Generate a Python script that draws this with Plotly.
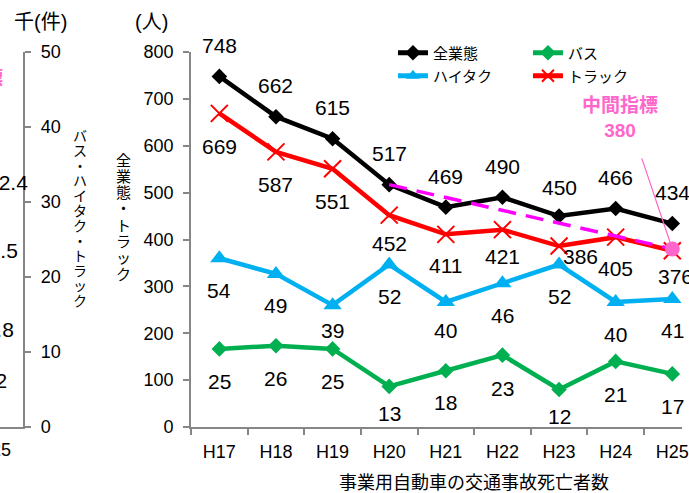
import plotly.graph_objects as go

# ---- data -------------------------------------------------------------
years = ["H17", "H18", "H19", "H20", "H21", "H22", "H23", "H24", "H25"]
total = [748, 662, 615, 517, 469, 490, 450, 466, 434]   # 全業態 (left axis, 人)
truck = [669, 587, 551, 452, 411, 421, 386, 405, 376]   # トラック (left axis, 人)
taxi = [54, 49, 39, 52, 40, 46, 52, 40, 41]             # ハイタク (right axis, 人)
bus = [25, 26, 25, 13, 18, 23, 12, 21, 17]              # バス (right axis, 人)

target_from = "H20"      # 中間指標 line starts from 全業態 in this year
target_year = "H25"
target_value = 380

# neighbouring panel: accident counts (千件) in its last year
acc_year = "H25"
acc_total = 42.4
acc_target = 43.0
acc_truck = 21.5
acc_taxi = 16.8
acc_bus = 2.2

# ---- geometry / style -------------------------------------------------
W, H = 689, 493
MT, MB = 52, 66
PLOT_H = H - MT - MB
CAT = 57.2            # px per category
MAIN_LEFT = 193       # px of the main y axis
MINI_RIGHT = 23.3     # px of the neighbouring panel's right axis

FONT = "Liberation Sans, Arial, Noto Sans CJK JP, sans-serif"
GRAY = "#868686"
BLACK = "#000000"
GREEN = "#00B050"
CYAN = "#00B0F0"
RED = "#FF0000"
PINK = "#FF66CC"
MAGENTA = "#FF00FF"


def px_x(p):
    return p / W


def px_y(p):
    return (H - MB - p) / PLOT_H


main_range = [-0.5, -0.5 + (W - MAIN_LEFT) / CAT]
mini_range = [len(years) - 0.5 - MINI_RIGHT / CAT, len(years) - 0.5]
mini_domain = [0, MINI_RIGHT / W]


def mini_to_paper(cat):
    idx = years.index(cat)
    frac = (idx - mini_range[0]) / (mini_range[1] - mini_range[0])
    return mini_domain[0] + frac * (mini_domain[1] - mini_domain[0])


CENTER = dict(xanchor="center", yanchor="middle")

fig = go.Figure()

# ---- main panel: fatalities -------------------------------------------
fig.add_trace(go.Scatter(
    x=years, y=bus, name="バス", yaxis="y2", mode="lines+markers",
    line=dict(color=GREEN, width=4.5),
    marker=dict(symbol="diamond", size=12, color=GREEN),
    legend="legend", legendrank=2))
fig.add_trace(go.Scatter(
    x=years, y=taxi, name="ハイタク", yaxis="y2", mode="lines+markers",
    line=dict(color=CYAN, width=4.5),
    marker=dict(symbol="triangle-up", size=16, color=CYAN),
    legend="legend2", legendrank=1))
fig.add_trace(go.Scatter(
    x=years, y=truck, name="トラック", mode="lines+markers",
    line=dict(color=RED, width=4.5),
    marker=dict(symbol="x-thin", size=17, color=RED, line=dict(color=RED, width=2)),
    legend="legend2", legendrank=2))
fig.add_trace(go.Scatter(
    x=years, y=total, name="全業態", mode="lines+markers",
    line=dict(color=BLACK, width=4.5),
    marker=dict(symbol="diamond", size=12, color=BLACK),
    legend="legend", legendrank=1))
fig.add_trace(go.Scatter(
    x=[target_from, target_year], y=[total[years.index(target_from)], target_value],
    mode="lines", line=dict(color=MAGENTA, width=3.5, dash="18px,10px"),
    showlegend=False, hoverinfo="skip"))
fig.add_trace(go.Scatter(
    x=[target_year], y=[target_value], mode="markers",
    marker=dict(symbol="circle", size=15, color=PINK),
    showlegend=False, cliponaxis=False))

# ---- neighbouring panel (only its right edge is in view) -------------
mini_common = dict(xaxis="x2", mode="markers", showlegend=False, cliponaxis=False)
fig.add_trace(go.Scatter(x=[acc_year], y=[acc_total], yaxis="y4",
                         marker=dict(symbol="diamond", size=12, color=BLACK), **mini_common))
fig.add_trace(go.Scatter(x=[acc_year], y=[acc_target], yaxis="y4",
                         marker=dict(symbol="circle", size=16, color=PINK), **mini_common))
fig.add_trace(go.Scatter(x=[acc_year], y=[acc_bus], yaxis="y3",
                         marker=dict(symbol="diamond", size=12, color=GREEN), **mini_common))
fig.add_trace(go.Scatter(x=[acc_year], y=[acc_taxi], yaxis="y3",
                         marker=dict(symbol="triangle-up", size=16, color=CYAN), **mini_common))
fig.add_trace(go.Scatter(x=[acc_year], y=[acc_truck], yaxis="y3",
                         marker=dict(symbol="x-thin", size=17, color=RED,
                                     line=dict(color=RED, width=2)), **mini_common))

# ---- data labels -------------------------------------------------------
LABEL_FONT = dict(family=FONT, size=21, color=BLACK)


def add_labels(values, yref, base, tweaks):
    for yr, v in zip(years, values):
        dx, dy = tweaks.get(yr, (0, base))
        fig.add_annotation(x=yr, y=v, xref="x", yref=yref, text=str(v),
                           showarrow=False, xshift=dx, yshift=dy, font=LABEL_FONT,
                           **CENTER)


add_labels(total, "y", 31, {"H23": (0, 29)})
add_labels(truck, "y", -33, {"H20": (0, -28), "H21": (0, -31), "H22": (0, -27),
                             "H23": (21, -10), "H24": (0, -31), "H25": (3, -26)})
add_labels(taxi, "y2", -32, {"H19": (0, -25), "H21": (0, -28)})
add_labels(bus, "y2", -33, {"H20": (0, -27), "H21": (0, -32), "H23": (0, -27)})

# 中間指標 callout
fig.add_annotation(x=target_year, y=target_value, xref="x", yref="y",
                   text="<b>中間指標<br>%d</b>" % target_value, showarrow=False,
                   xshift=-52, yshift=131, font=dict(family=FONT, size=19, color=PINK),
                   **CENTER)
fig.add_annotation(x=target_year, y=target_value, xref="x", yref="y", text="",
                   showarrow=True, arrowhead=0, arrowwidth=1.2, arrowcolor=PINK,
                   ax=-31, ay=-92, standoff=7)

# labels of the neighbouring panel
mx = mini_to_paper(acc_year)
for val, yref, dx, dy in [(acc_total, "y4", 13, 17), (acc_truck, "y3", 3, 15),
                          (acc_taxi, "y3", -1, -28), (acc_bus, "y3", -2, 30)]:
    fig.add_annotation(x=mx, y=val, xref="paper", yref=yref, text=str(val),
                       showarrow=False, xshift=dx, yshift=dy, font=LABEL_FONT, **CENTER)
fig.add_annotation(x=mx, y=acc_target, xref="paper", yref="y4", text="<b>中間指標</b>",
                   showarrow=False, xshift=-30, yshift=118,
                   font=dict(family=FONT, size=19, color=PINK), **CENTER)
fig.add_annotation(x=mx, y=0, xref="paper", yref="y3", text=acc_year, showarrow=False,
                   yshift=-23, font=dict(family=FONT, size=18, color=BLACK), **CENTER)

# ---- axis titles and units ---------------------------------------------
fig.add_annotation(x="H21", y=px_y(483), xref="x", yref="paper", xshift=CAT / 2,
                   text="事業用自動車の交通事故死亡者数", showarrow=False,
                   font=dict(family=FONT, size=18, color=BLACK), **CENTER)
fig.add_annotation(x=px_x(41), y=px_y(22), xref="paper", yref="paper", text="千(件)",
                   showarrow=False, font=dict(family=FONT, size=20, color=BLACK), **CENTER)
fig.add_annotation(x=px_x(153), y=px_y(22), xref="paper", yref="paper", text="(人)",
                   showarrow=False, font=dict(family=FONT, size=20, color=BLACK), **CENTER)


def vertical_title(text, cx, top, pitch, size):
    for i, ch in enumerate(text):
        fig.add_annotation(x=px_x(cx), y=px_y(top + i * pitch), xref="paper", yref="paper",
                           text=ch, showarrow=False,
                           font=dict(family=FONT, size=size, color=BLACK), **CENTER)


vertical_title("全業態・トラック", 125, 160, 16.3, 15)
vertical_title("バス・ハイタク・トラック", 81, 136, 15.0, 14)

# ---- axes --------------------------------------------------------------
axis_common = dict(showline=True, linecolor=GRAY, linewidth=2, ticks="outside",
                   ticklen=6, tickcolor=GRAY, tickwidth=1.5, showgrid=False,
                   zeroline=False, tickfont=dict(family=FONT, size=18, color=BLACK))

fig.update_layout(
    width=W, height=H,
    margin=dict(l=0, r=0, t=MT, b=MB),
    paper_bgcolor="white", plot_bgcolor="white",
    font=dict(family=FONT, color=BLACK),
    xaxis=dict(domain=[MAIN_LEFT / W, 1], type="category", categoryorder="array",
               categoryarray=years, range=main_range, tickson="boundaries",
               anchor="y", ticklabelstandoff=7, **axis_common),
    yaxis=dict(domain=[0, 1], range=[0, 800], dtick=100, anchor="x",
               ticklabelstandoff=6, **axis_common),
    yaxis2=dict(overlaying="y", range=[0, 120], side="right", anchor="x", visible=False),
    xaxis2=dict(domain=mini_domain, type="category", categoryorder="array",
                categoryarray=years, range=mini_range, tickson="boundaries",
                anchor="y3", showticklabels=False, **axis_common),
    yaxis3=dict(domain=[0, 1], range=[0, 50], dtick=10, side="right", anchor="x2",
                ticklabelstandoff=6, **axis_common),
    yaxis4=dict(overlaying="y3", range=[0, 70], anchor="x2", visible=False),
    legend=dict(orientation="h", x=px_x(397), y=px_y(53), xanchor="left",
                yanchor="middle", entrywidth=90, bgcolor="rgba(0,0,0,0)",
                itemsizing="constant",
                font=dict(family=FONT, size=15, color=BLACK)),
    legend2=dict(orientation="h", x=px_x(397), y=px_y(76), xanchor="left",
                 yanchor="middle", entrywidth=90, bgcolor="rgba(0,0,0,0)",
                 itemsizing="constant",
                 font=dict(family=FONT, size=15, color=BLACK)),
    showlegend=True,
)

fig.write_html("out.html")
